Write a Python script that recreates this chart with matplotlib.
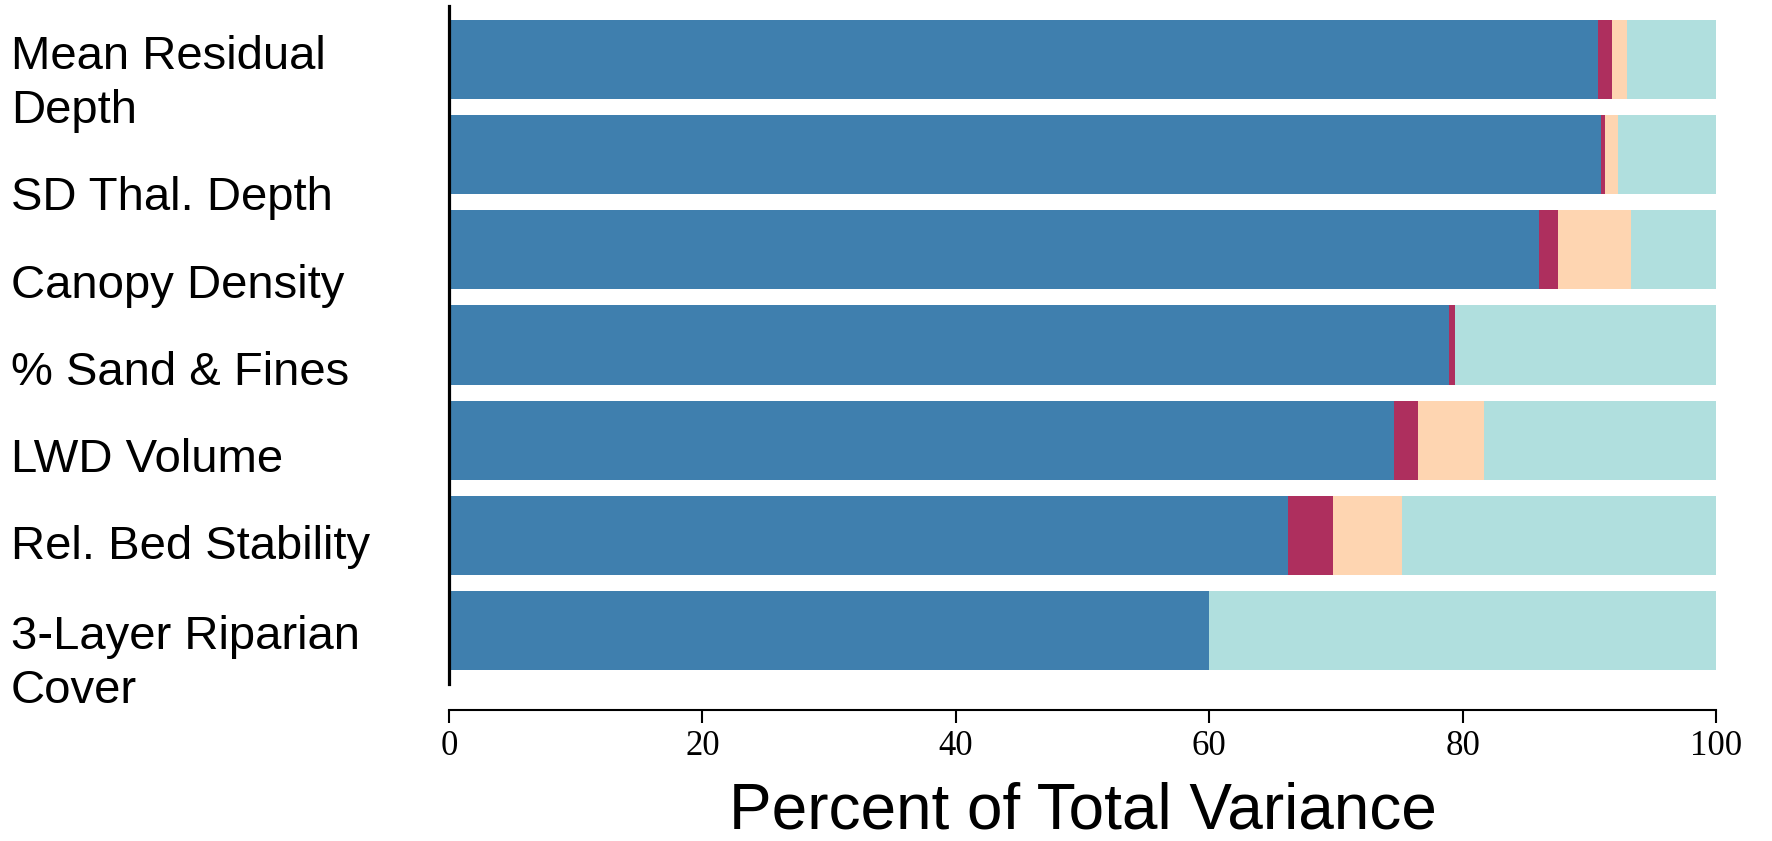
import numpy as np
import matplotlib
matplotlib.use('Agg')
import matplotlib.pyplot as plt

# variance partition per habitat metric (percent of total)
metrics = ['Mean Residual\nDepth', 'SD Thal. Depth', 'Canopy Density',
           '% Sand & Fines', 'LWD Volume', 'Rel. Bed Stability',
           '3-Layer Riparian\nCover']
blue_part = [90.7, 90.9, 86.0, 78.9, 74.6, 66.2, 60.0]
red_part = [1.1, 0.3, 1.5, 0.5, 1.9, 3.6, 0.0]
peach_part = [1.2, 1.1, 5.8, 0.0, 5.2, 5.4, 0.0]
teal_part = [7.0, 7.7, 6.7, 20.6, 18.3, 24.8, 40.0]
xticks = [0, 20, 40, 60, 80, 100]

colors = ['#3f7fae', '#ae2f5e', '#fed5b1', '#b0dfde']

W, H = 1772, 841
fig = plt.figure(figsize=(W / 100, H / 100), dpi=100)
ax = fig.add_axes([449 / W, 1 - 684 / H, (1716 - 449) / W, (684 - 6) / H])

y = np.arange(len(metrics))
left = np.zeros(len(metrics))
for part, col in zip([blue_part, red_part, peach_part, teal_part], colors):
    part = np.array(part)
    ax.barh(y, part, left=left, height=0.833, color=col, edgecolor='none')
    left += part

ax.set_xlim(0, 100)
ax.set_ylim(6.562, -0.562)

for s in ['top', 'right']:
    ax.spines[s].set_visible(False)
ax.spines['left'].set_linewidth(2.3)
ax.spines['bottom'].set_linewidth(1.5)
ax.spines['bottom'].set_position(('outward', 18.7))
ax.set_yticks([])
ax.set_xticks(xticks)
ax.set_xticklabels([str(t) for t in xticks], family='Liberation Serif', fontsize=25)
ax.tick_params(axis='x', length=9.5, width=1.5, pad=5)

ax.set_xlabel('Percent of Total Variance', family='Liberation Sans', fontsize=46, labelpad=13)

# metric labels, set by baseline of their last line
label_base = [123, 210, 298, 385, 472, 559, 703]
for name, yb in zip(metrics, label_base):
    fig.text(11 / W, 1 - yb / H, name, family='Liberation Sans', fontsize=34,
             ha='left', va='baseline', linespacing=1.3)

fig.savefig('out.png', dpi=100)
